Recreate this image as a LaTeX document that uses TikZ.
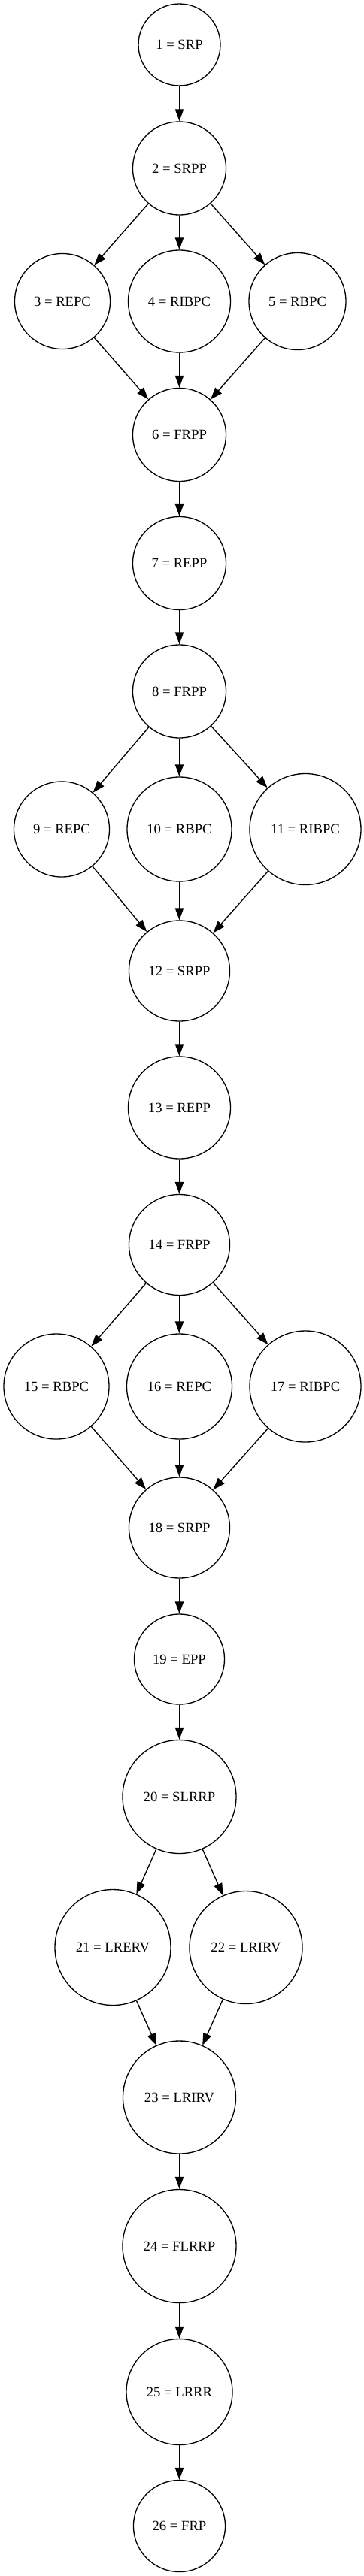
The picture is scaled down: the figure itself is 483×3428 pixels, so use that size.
\documentclass[tikz,border=0pt]{standalone}
\usepackage{fontspec}
\setmainfont{Liberation Serif}
\usetikzlibrary{arrows.meta}
\tikzset{
  st/.style={circle, draw, line width=1pt, inner sep=0pt, font=\fontsize{14}{16}\selectfont},
  rad/.style={minimum size=#1*1.5pt},
  arr/.style={line width=1pt, -{Triangle[length=12pt,width=8.5pt]}}
}
\begin{document}
\begin{tikzpicture}[x=0.75pt,y=-0.75pt]
\useasboundingbox (0,0) rectangle (483,3428);
\node[st,rad=54.5] (n1) at (238.5,59.5) {1 = SRP};
\node[st,rad=62] (n2) at (238.5,224) {2 = SRPP};
\node[st,rad=63.5] (n3) at (83,401) {3 = REPC};
\node[st,rad=68] (n4) at (238.5,401) {4 = RIBPC};
\node[st,rad=64.5] (n5) at (395.5,401) {5 = RBPC};
\node[st,rad=62] (n6) at (238.5,578.5) {6 = FRPP};
\node[st,rad=62] (n7) at (238.5,749.5) {7 = REPP};
\node[st,rad=62] (n8) at (238.5,920) {8 = FRPP};
\node[st,rad=63.5] (n9) at (82,1103.5) {9 = REPC};
\node[st,rad=69.5] (n10) at (238.5,1103.5) {10 = RBPC};
\node[st,rad=74] (n11) at (406,1103.5) {11 = RIBPC};
\node[st,rad=67] (n12) at (238.5,1292) {12 = SRPP};
\node[st,rad=68] (n13) at (238.5,1474) {13 = REPP};
\node[st,rad=67] (n14) at (238.5,1656.5) {14 = FRPP};
\node[st,rad=70] (n15) at (75,1845) {15 = RBPC};
\node[st,rad=70] (n16) at (238.5,1845) {16 = REPC};
\node[st,rad=74] (n17) at (406,1845) {17 = RIBPC};
\node[st,rad=67] (n18) at (238.5,2033) {18 = SRPP};
\node[st,rad=60] (n19) at (238.5,2208) {19 = EPP};
\node[st,rad=75.5] (n20) at (238.5,2391) {20 = SLRRP};
\node[st,rad=77] (n21) at (150,2591.5) {21 = LRERV};
\node[st,rad=75] (n22) at (327,2591.5) {22 = LRIRV};
\node[st,rad=75] (n23) at (238.5,2791) {23 = LRIRV};
\node[st,rad=75.5] (n24) at (238.5,2989) {24 = FLRRP};
\node[st,rad=70.5] (n25) at (238.5,3183) {25 = LRRR};
\node[st,rad=61] (n26) at (238.5,3361.5) {26 = FRP};
\foreach \a/\b in {n1/n2, n2/n3, n2/n4, n2/n5, n3/n6, n4/n6, n5/n6, n6/n7, n7/n8,
  n8/n9, n8/n10, n8/n11, n9/n12, n10/n12, n11/n12, n12/n13, n13/n14,
  n14/n15, n14/n16, n14/n17, n15/n18, n16/n18, n17/n18, n18/n19, n19/n20,
  n20/n21, n20/n22, n21/n23, n22/n23, n23/n24, n24/n25, n25/n26}
  \draw[arr] (\a) -- (\b);
\end{tikzpicture}
\end{document}
